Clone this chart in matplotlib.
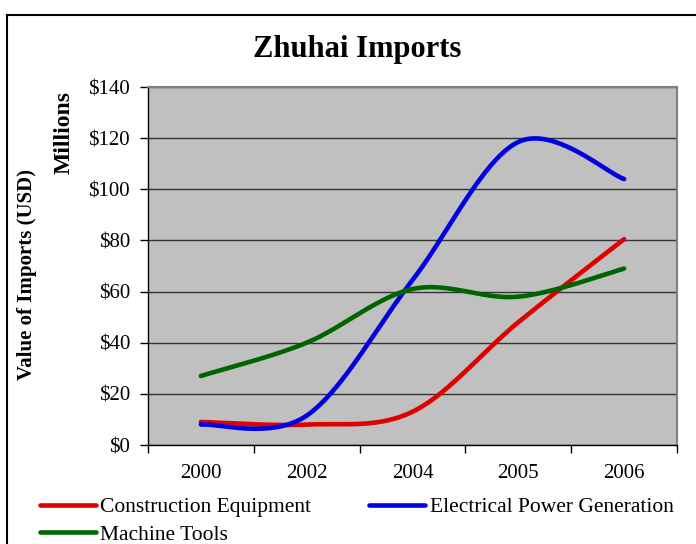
import numpy as np
import matplotlib
matplotlib.use("Agg")
import matplotlib.pyplot as plt
from matplotlib.lines import Line2D

categories = ['2000', '2002', '2004', '2005', '2006']
construction = [9, 8, 13, 48, 80.5]
electrical = [8, 11.5, 64.5, 118.5, 104]
machine = [27, 40, 61, 58, 69]
series_names = ['Construction Equipment', 'Electrical Power Generation', 'Machine Tools']
yticks = [0, 20, 40, 60, 80, 100, 120, 140]

plt.rcParams['font.family'] = ['Liberation Serif', 'DejaVu Serif']


def smooth(xs, ys, n=40):
    xs = np.asarray(xs, float)
    ys = np.asarray(ys, float)
    P = np.column_stack([xs, ys])
    m = len(P)
    outx, outy = [], []
    for i in range(m - 1):
        p0 = P[i]
        p3 = P[i + 1]
        prev = P[i - 1] if i > 0 else P[i]
        nxt = P[i + 2] if i + 2 < m else P[i + 1]
        c1 = p0 + (p3 - prev) / 6.0
        c2 = p3 - (nxt - p0) / 6.0
        t = np.linspace(0, 1, n)[:, None]
        b = ((1 - t) ** 3) * p0 + 3 * ((1 - t) ** 2) * t * c1 + 3 * (1 - t) * t ** 2 * c2 + t ** 3 * p3
        outx.extend(b[:, 0])
        outy.extend(b[:, 1])
    return outx, outy


fig = plt.figure(figsize=(6.96, 5.44), dpi=100)
ax = fig.add_axes([148 / 696, 1 - 445 / 544, (677 - 148) / 696, (445 - 87) / 544])
ax.set_facecolor('#c0c0c0')

x = np.arange(len(categories))
colors = ['#e00000', '#0000e0', '#006400']
handles = []
for vals, c, name in zip([construction, electrical, machine], colors, series_names):
    sx, sy = smooth(x, vals)
    ln, = ax.plot(sx, sy, color=c, lw=3.3, solid_capstyle='round', label=name)
    handles.append(ln)

ax.set_xlim(-0.5, len(categories) - 0.5)
ax.set_ylim(0, 140)
ax.set_yticks(yticks)
ax.set_yticklabels([f'${v}' for v in yticks], fontsize=15)
ax.yaxis.grid(True, color='#333333', lw=1)
ax.set_axisbelow(True)

ax.set_xticks(x)
ax.set_xticklabels(categories, fontsize=15)
ax.set_xticks(np.arange(-0.5, len(categories), 1), minor=True)
ax.tick_params(axis='x', which='major', length=0, pad=14)
ax.tick_params(axis='x', which='minor', length=6, width=1, direction='out')
ax.tick_params(axis='y', length=6, width=1, direction='out', pad=7)

for s in ['top', 'right']:
    ax.spines[s].set_color('#808080')
    ax.spines[s].set_linewidth(1.5)
for s in ['left', 'bottom']:
    ax.spines[s].set_color('black')
    ax.spines[s].set_linewidth(1)

fig.text(357 / 696, 1 - 50 / 544, 'Zhuhai Imports', ha='center', va='center',
         fontsize=22, fontweight='bold')
fig.text(27 / 696, 1 - 274 / 544, 'Value of Imports (USD)', ha='center', va='center',
         rotation=90, fontsize=15, fontweight='bold')
fig.text(64 / 696, 1 - 132 / 544, 'Millions', ha='center', va='center',
         rotation=90, fontsize=17, fontweight='bold')

leg = fig.legend([handles[0], handles[2], handles[1]],
                 [series_names[0], series_names[2], series_names[1]],
                 ncol=2, loc='upper left', bbox_to_anchor=(40 / 696, 1 - 497 / 544),
                 frameon=False, fontsize=15.5, handlelength=2.6, handletextpad=0.2,
                 columnspacing=2.7, labelspacing=0.35, borderpad=0, borderaxespad=0)

# outer chart border
fig.add_artist(Line2D([7 / 696, 7 / 696], [0, 1 - 15 / 544], color='black', lw=1.5,
                      transform=fig.transFigure))
fig.add_artist(Line2D([7 / 696, 1], [1 - 15 / 544, 1 - 15 / 544], color='black', lw=1.5,
                      transform=fig.transFigure))

fig.savefig('out.png', dpi=100, facecolor='white')
